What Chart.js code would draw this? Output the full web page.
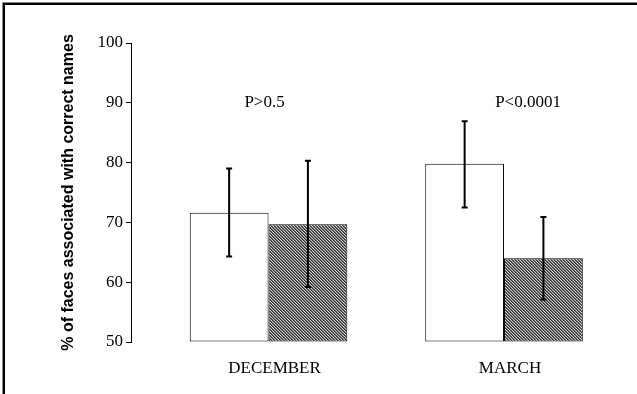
<!DOCTYPE html>
<html lang="en">
<head>
    <meta charset="UTF-8">
    <title>Faces associated with correct names</title>
    <script src="https://cdn.jsdelivr.net/npm/chart.js"></script>
    <style>
        body {
            margin: 0;
            padding: 0;
            background: #fff;
        }
        .wrap {
            position: relative;
            width: 637px;
            height: 394px;
            overflow: hidden;
        }
        .frame {
            position: absolute;
            left: 3px;
            top: 3px;
            width: 700px;
            height: 500px;
            border-top: 2px solid #000;
            border-left: 2px solid #000;
            box-shadow: -1px -1px 0 #8a8a8a;
            pointer-events: none;
        }
        canvas {
            position: absolute;
            left: 0;
            top: 0;
        }
    </style>
</head>
<body>
    <div class="wrap">
        <canvas id="chart" width="637" height="394"></canvas>
        <div class="frame"></div>
    </div>

    <script>
        // values
        const categories = ['DECEMBER', 'MARCH'];
        const firstValues = [71.6, 79.8];
        const secondValues = [69.7, 64.0];
        const firstErrLow = [64.3, 72.5];
        const firstErrHigh = [79.0, 86.9];
        const secondErrLow = [59.2, 57.1];
        const secondErrHigh = [80.3, 70.9];
        const pLabels = ['P>0.5', 'P<0.0001'];
        const yTicks = [50, 60, 70, 80, 90, 100];
        const yMin = 50;

        // fine diagonal hatch used for the second bar
        function makeHatch() {
            const c = document.createElement('canvas');
            c.width = 3;
            c.height = 3;
            const g = c.getContext('2d');
            const shades = ['#333333', '#666666', '#cccccc'];
            for (let x = 0; x < 3; x++) {
                for (let y = 0; y < 3; y++) {
                    g.fillStyle = shades[(x + 3 - y) % 3];
                    g.fillRect(x, y, 1, 1);
                }
            }
            return g.createPattern(c, 'repeat');
        }

        const errorBars = {
            id: 'errorBars',
            afterDatasetsDraw(chart) {
                const ctx = chart.ctx;
                const y = chart.scales.y;
                ctx.save();
                ctx.strokeStyle = '#000';
                ctx.lineWidth = 2;
                chart.data.datasets.forEach((ds, di) => {
                    const meta = chart.getDatasetMeta(di);
                    meta.data.forEach((bar, i) => {
                        const top = y.getPixelForValue(ds.errHigh[i]);
                        const bot = y.getPixelForValue(ds.errLow[i]);
                        ctx.beginPath();
                        ctx.moveTo(bar.x, top);
                        ctx.lineTo(bar.x, bot);
                        ctx.moveTo(bar.x - 3, top);
                        ctx.lineTo(bar.x + 3, top);
                        ctx.moveTo(bar.x - 3, bot);
                        ctx.lineTo(bar.x + 3, bot);
                        ctx.stroke();
                    });
                });
                ctx.restore();
            }
        };

        const pValues = {
            id: 'pValues',
            afterDraw(chart, args, opts) {
                const ctx = chart.ctx;
                const x = chart.scales.x;
                const y = chart.scales.y;
                ctx.save();
                ctx.font = '17px "Liberation Serif", "Times New Roman", serif';
                ctx.fillStyle = '#000';
                ctx.textAlign = 'center';
                ctx.textBaseline = 'middle';
                pLabels.forEach((t, i) => {
                    ctx.fillText(t, x.getPixelForValue(i + 1) + opts.shift[i], y.getPixelForValue(90));
                });
                ctx.restore();
            }
        };

        const ctx = document.getElementById('chart').getContext('2d');
        new Chart(ctx, {
            type: 'bar',
            data: {
                datasets: [
                    {
                        label: 'Group 1',
                        data: firstValues.map((v, i) => ({ x: i + 1, y: v })),
                        errLow: firstErrLow,
                        errHigh: firstErrHigh,
                        base: yMin,
                        backgroundColor: '#fff',
                        borderColor: '#000',
                        borderWidth: 1,
                        borderSkipped: false,
                        clip: false
                    },
                    {
                        label: 'Group 2',
                        data: secondValues.map((v, i) => ({ x: i + 1, y: v })),
                        errLow: secondErrLow,
                        errHigh: secondErrHigh,
                        base: yMin,
                        backgroundColor: makeHatch(),
                        borderColor: '#000',
                        borderWidth: 1,
                        borderSkipped: false,
                        clip: false
                    }
                ]
            },
            options: {
                responsive: false,
                animation: false,
                categoryPercentage: 0.669,
                barPercentage: 1,
                layout: {
                    padding: { top: 43, left: 0, right: 27, bottom: 0 }
                },
                plugins: {
                    legend: { display: false },
                    tooltip: { enabled: false },
                    pValues: { shift: [-4, 24] }
                },
                scales: {
                    x: {
                        type: 'linear',
                        offset: false,
                        bounds: 'data',
                        min: 0.416,
                        max: 2.45,
                        grid: { display: false, drawTicks: false, offset: false },
                        border: { display: false },
                        afterBuildTicks: s => { s.ticks = categories.map((c, i) => ({ value: i + 1 })); },
                        afterFit: s => { s.height = 52; },
                        ticks: {
                            padding: 16,
                            labelOffset: 6,
                            color: '#000',
                            font: { family: '"Liberation Serif", "Times New Roman", serif', size: 17 },
                            callback: v => categories[v - 1]
                        }
                    },
                    y: {
                        min: yMin,
                        max: 100,
                        afterBuildTicks: s => { s.ticks = yTicks.map(v => ({ value: v })); },
                        afterFit: s => { s.width = 131; },
                        grid: { drawOnChartArea: false, drawTicks: true, tickLength: 5, color: '#000' },
                        border: { display: true, color: '#000', width: 1 },
                        ticks: {
                            padding: 3,
                            color: '#000',
                            font: { family: '"Liberation Serif", "Times New Roman", serif', size: 17 }
                        },
                        title: {
                            display: true,
                            text: '% of faces associated with correct names',
                            color: '#000',
                            padding: { top: 59, bottom: 0 },
                            font: { family: '"Liberation Sans", Arial, sans-serif', size: 16, weight: 'bold' }
                        }
                    }
                }
            },
            plugins: [errorBars, pValues]
        });
    </script>
</body>
</html>
